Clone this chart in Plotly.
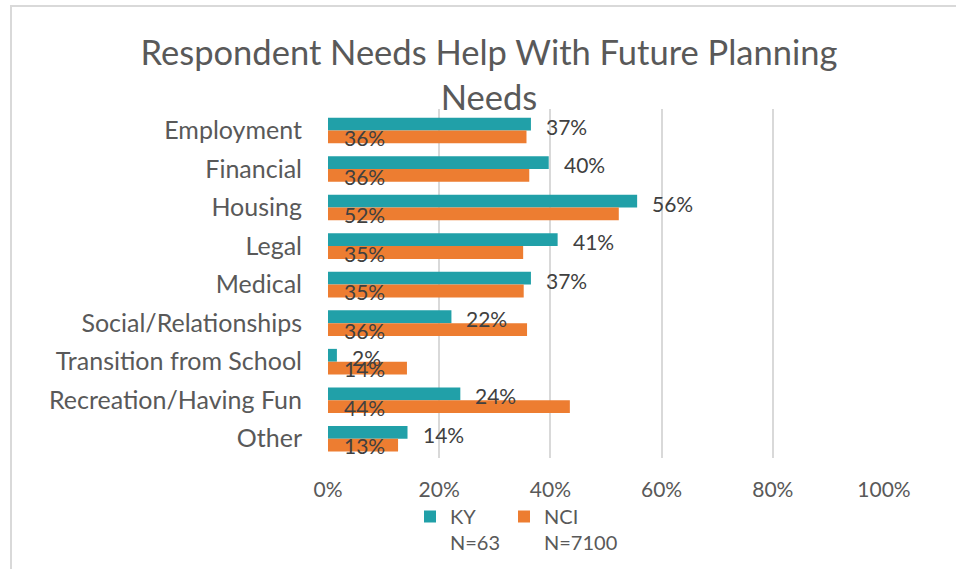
import plotly.graph_objects as go

categories = ["Employment", "Financial", "Housing", "Legal", "Medical",
              "Social/Relationships", "Transition from School",
              "Recreation/Having Fun", "Other"]
ky_values = [36.5, 39.7, 55.6, 41.3, 36.5, 22.2, 1.6, 23.8, 14.3]
ky_labels = ["37%", "40%", "56%", "41%", "37%", "22%", "2%", "24%", "14%"]
nci_values = [35.7, 36.2, 52.3, 35.1, 35.2, 35.8, 14.2, 43.5, 12.6]
nci_labels = ["36%", "36%", "52%", "35%", "35%", "36%", "14%", "44%", "13%"]
x_ticks = [0, 20, 40, 60, 80, 100]
x_ticktext = ["0%", "20%", "40%", "60%", "80%", "100%"]

FONT = "Lato"
GRAY = "#595959"
TEAL = "#21A0A8"
ORANGE = "#ED7D31"

fig = go.Figure()
fig.add_trace(go.Bar(y=categories, x=ky_values, orientation="h", name="KY<br>N=63",
                     legend="legend", showlegend=True,
                     marker=dict(color=TEAL, line=dict(width=0))))
fig.add_trace(go.Bar(y=categories, x=nci_values, orientation="h", name="NCI<br>N=7100",
                     legend="legend2", showlegend=True,
                     marker=dict(color=ORANGE, line=dict(width=0))))

annotations = []
for c, v, t in zip(categories, ky_values, ky_labels):
    annotations.append(dict(x=v, y=c, xref="x", yref="y", text=t, showarrow=False,
                            xanchor="left", xshift=13, yshift=4.5,
                            font=dict(family=FONT, size=21, color="#404040")))
for c, t in zip(categories, nci_labels):
    annotations.append(dict(x=0, y=c, xref="x", yref="y", text=t, showarrow=False,
                            xanchor="left", xshift=14, yshift=-7,
                            font=dict(family=FONT, size=21, color="#404040")))

L, R, T, B = 328, 72, 109, 111
W, H = 956, 569
pw, ph = W - L - R, H - T - B

legend_common = dict(orientation="h", xanchor="left", yanchor="top",
                     y=-(497 - (T + ph)) / ph, valign="top", visible=True,
                     font=dict(family=FONT, size=20, color=GRAY),
                     bgcolor="rgba(0,0,0,0)")

fig.update_layout(
    width=W, height=H,
    showlegend=True,
    margin=dict(l=L, r=R, t=T, b=B, autoexpand=False),
    paper_bgcolor="white", plot_bgcolor="white",
    barmode="group", bargap=0.335, bargroupgap=0,
    title=dict(text="Respondent Needs Help With Future Planning<br>Needs",
               x=489 / W, xref="container", xanchor="center",
               y=1 - 65 / H, yref="container", yanchor="top",
               font=dict(family=FONT, size=34.5, color=GRAY)),
    font=dict(family=FONT, color=GRAY),
    xaxis=dict(range=[0, 100], tickvals=x_ticks, ticktext=x_ticktext,
               showgrid=True, gridcolor="#D9D9D9", gridwidth=1.5,
               zeroline=False, showline=False, ticks="",
               tickfont=dict(family=FONT, size=21, color=GRAY),
               ticklabelstandoff=17, fixedrange=True),
    yaxis=dict(autorange="reversed", showgrid=False, zeroline=False,
               showline=False, ticks="",
               tickfont=dict(family=FONT, size=25, color=GRAY),
               ticklabelstandoff=25, fixedrange=True),
    legend=dict(x=(410 - L) / pw, **legend_common),
    legend2=dict(x=(504 - L) / pw, **legend_common),
    annotations=annotations,
    shapes=[dict(type="rect", xref="paper", yref="paper",
                 x0=(11 - L) / pw, x1=(W + 20 - L) / pw,
                 y0=-(H + 20 - (T + ph)) / ph, y1=((T + ph) - 6) / ph,
                 line=dict(color="#D9D9D9", width=2), layer="below")],
)

fig.write_html("out.html", config={"displayModeBar": False},
               post_script="document.body.style.margin='0';")
